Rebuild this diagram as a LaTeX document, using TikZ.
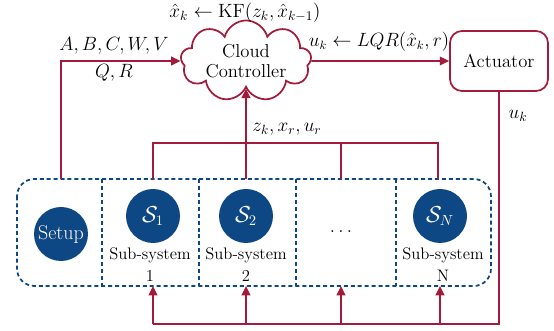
\documentclass[tikz,border=0pt]{standalone}
\usetikzlibrary{shapes.symbols,arrows.meta}
\definecolor{linkred}{RGB}{163,27,58}
\definecolor{unitblue}{RGB}{14,72,132}
\tikzset{every picture/.style={line width=0.75pt}}
\begin{document}
\begin{tikzpicture}[x=0.75pt,y=0.75pt,yscale=-1,xscale=1,
  link/.style={draw=linkred, line width=1.3pt},
  flow/.style={link, -{Triangle[length=7pt,width=6.5pt]}},
  dashbox/.style={draw=unitblue, line width=1.3pt, dash pattern=on 3pt off 2.2pt},
  unit/.style={circle, fill=unitblue, text=white, minimum size=40.5pt, inner sep=0pt, font=\fontsize{16}{18}\selectfont},
  lbl/.style={font=\fontsize{14}{16}\selectfont},
  sublbl/.style={align=center, font=\fontsize{12.5}{16.5}\selectfont}]
	\useasboundingbox (0,0) rectangle (554,331);

	%Shape: Cloud
	\node [cloud, cloud puffs=9, aspect=2.1, draw=linkred, line width=1.3pt, inner sep=0pt, minimum width=98pt, minimum height=46pt, align=center, font=\fontsize{14}{15}\selectfont] (cloud) at (246,61) {Cloud\\Controller};
	%Shape: Rounded Rect
	\node [draw=linkred, line width=1.3pt, rounded corners=9pt, minimum width=73.5pt, minimum height=45pt, font=\fontsize{14}{16}\selectfont] (act) at (499,61) {Actuator};

	%Shape: Dashed Rect
	\draw [dashbox, rounded corners=13pt] (17,179) rectangle (491,286);
	%Straight Lines
	\draw [dashbox] (102,179) -- (102,286);
	\draw [dashbox] (199,179) -- (199,286);
	\draw [dashbox] (296,179) -- (296,286);
	\draw [dashbox] (396,179) -- (396,286);

	%Shape: Circle
	\node [unit, font=\fontsize{15}{17}\selectfont] (setup) at (61,234) {Setup};
	\node [unit] (s1) at (153,216) {$\mathcal{S}_1$};
	\node [unit] (s2) at (246,216) {$\mathcal{S}_2$};
	\node [unit] (sN) at (440,216) {$\mathcal{S}_N$};

	% Text Node
	\node [sublbl] (sub1) at (150,265) {Sub-system\\1};
	\node [sublbl] (sub2) at (246,265) {Sub-system\\2};
	\node [sublbl] (subN) at (443,265) {Sub-system\\N};
	\node [lbl] (dots) at (341,232) {$\dots$};

	% Coordinates on the box edges
	\coordinate (t0) at (61,179);
	\coordinate (t1) at (153,179);
	\coordinate (t2) at (246,179);
	\coordinate (t3) at (341,179);
	\coordinate (tN) at (438,179);
	\coordinate (bus) at (246,143);
	\coordinate (b1) at (153,286);
	\coordinate (b2) at (246,286);
	\coordinate (b3) at (341,286);
	\coordinate (bN) at (440,286);
	\coordinate (low) at (499,324);

	%Straight Lines
	\draw [flow] (t0) |- (cloud.west);
	\draw [flow] (cloud.east) -- (act.west);
	\draw [link] (t1) |- (bus) -| (tN);
	\draw [link] (t3) -- (t3 |- bus);
	\draw [flow] (t2) -- (cloud.south);
	\draw [link] (act.south) -- (low) -- (b1 |- low);
	\draw [flow] (b1 |- low) -- (b1);
	\draw [flow] (b2 |- low) -- (b2);
	\draw [flow] (b3 |- low) -- (b3);
	\draw [flow] (bN |- low) -- (bN);

	% Text Node
	\node [lbl] (kf) at (245,13) {$\hat{x}_k \leftarrow \mathrm{KF}(z_k,\hat{x}_{k-1})$};
	\node [lbl] (abc) at (114,46) {$A,B,C,W,V$};
	\node [lbl] (qr) at (114,73) {$Q,R$};
	\node [lbl, font=\fontsize{13.5}{16}\selectfont] (lqr) at (379,42) {$u_k \leftarrow LQR(\hat{x}_k,r)$};
	\node [lbl] (zxu) at (287,129) {$z_k,x_r,u_r$};
	\node [lbl] (uk) at (518,116) {$u_k$};

\end{tikzpicture}
\end{document}
